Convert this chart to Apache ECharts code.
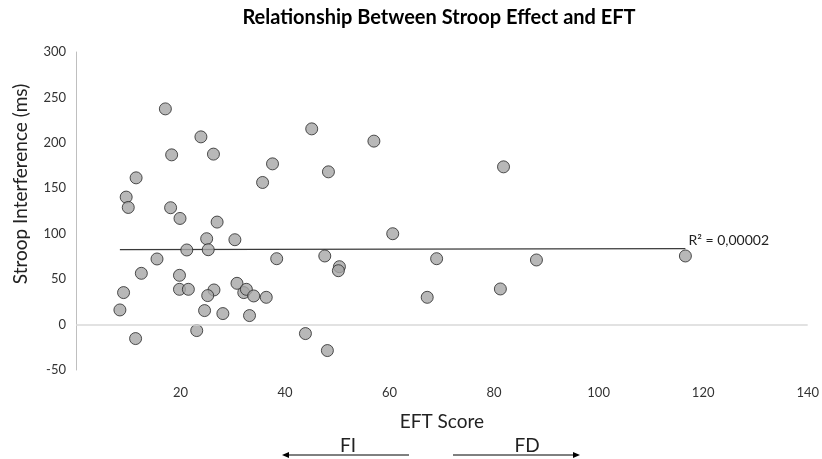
<!DOCTYPE html>
<html>
<head>
<meta charset="utf-8">
<script src="https://cdn.jsdelivr.net/npm/echarts@6/dist/echarts.min.js"></script>
<style>
  html, body { margin: 0; padding: 0; background: #fff; }
  #chart { width: 822px; height: 459px; }
</style>
</head>
<body>
<div id="chart"></div>
<script>
// EFT score and Stroop interference (ms) per participant
const eftScores = [
  17.1, 23.9, 18.3, 26.3, 45.1, 57.0, 37.6, 48.3, 11.5, 35.7,
  9.6, 10.0, 18.1, 19.9, 27.0, 25.0, 30.4, 60.6, 21.2, 25.3,
  15.5, 38.4, 47.6, 50.4, 50.2, 12.5, 19.8, 9.1, 19.8, 21.5,
  26.4, 25.2, 30.8, 32.1, 32.6, 34.0, 36.4, 8.4, 24.6, 28.1,
  33.2, 23.1, 11.4, 43.9, 48.1, 81.8, 69.0, 88.1, 116.6, 67.2,
  81.2
];
const stroopInterference = [
  237.4, 206.6, 186.8, 187.6, 215.4, 201.9, 176.9, 168.1, 161.5, 156.4,
  140.3, 128.9, 128.6, 116.8, 112.8, 94.5, 93.4, 100.0, 82.1, 82.4,
  72.2, 72.5, 75.5, 63.7, 59.3, 56.4, 54.2, 35.2, 38.8, 38.8,
  38.1, 31.9, 45.4, 35.2, 38.8, 31.5, 30.0, 16.1, 15.4, 12.1,
  9.9, -6.6, -15.4, -9.9, -28.6, 173.6, 72.5, 71.1, 75.5, 30.0,
  39.2
];

// Linear trend line end points and its fit statistic
const trendX = [8.4, 116.6];
const trendY = [82.4, 83.5];
const rSquaredText = 'R² = 0,00002';

// Axis ticks
const xTicks = [0, 20, 40, 60, 80, 100, 120, 140];
const yTicks = [-50, 0, 50, 100, 150, 200, 250, 300];

const points = eftScores.map((x, i) => [x, stroopInterference[i]]);
const trend = trendX.map((x, i) => [x, trendY[i]]);

const FONT = 'Lato, "Open Sans", sans-serif';
const chart = echarts.init(document.getElementById('chart'), null, { renderer: 'canvas' });

// Horizontal arrow with a filled head at x2
function arrow(x1, x2, y) {
  const dir = x2 > x1 ? 1 : -1;
  return {
    type: 'group',
    children: [
      { type: 'line', shape: { x1: x1, y1: y, x2: x2 - dir * 4, y2: y },
        style: { stroke: '#000', lineWidth: 1 } },
      { type: 'polygon', shape: { points: [[x2, y], [x2 - dir * 7, y - 3], [x2 - dir * 7, y + 3]] },
        style: { fill: '#000' } }
    ]
  };
}

chart.setOption({
  backgroundColor: '#ffffff',
  animation: false,
  title: {
    text: 'Relationship Between Stroop Effect and EFT',
    left: 434,
    textAlign: 'center',
    top: 3,
    textStyle: { fontFamily: FONT, fontSize: 20, fontWeight: 'bold', color: '#000' }
  },
  grid: { left: 76, right: 11, top: 52, bottom: 89, containLabel: false },
  xAxis: {
    type: 'value',
    min: xTicks[0],
    max: xTicks[xTicks.length - 1],
    interval: 20,
    name: 'EFT Score',
    nameLocation: 'middle',
    nameGap: 42,
    nameTextStyle: { fontFamily: FONT, fontSize: 19, color: '#222' },
    axisLine: { show: false },
    axisTick: { show: false },
    splitLine: { show: false },
    axisLabel: {
      margin: 16,
      fontFamily: FONT, fontSize: 13, color: '#333',
      formatter: v => (v === 0 ? '' : String(v))
    }
  },
  yAxis: {
    type: 'value',
    min: yTicks[0],
    max: yTicks[yTicks.length - 1],
    interval: 50,
    axisLine: { show: true, lineStyle: { color: '#bfbfbf', width: 1 } },
    axisTick: { show: false },
    splitLine: { show: false },
    axisLabel: { margin: 10, fontFamily: FONT, fontSize: 13, color: '#333' }
  },
  series: [
    {
      type: 'line',
      data: trend,
      symbol: 'none',
      silent: true,
      lineStyle: { color: '#3a3a3a', width: 1.3 },
      endLabel: {
        show: true,
        formatter: rSquaredText,
        distance: 3,
        offset: [0, -8],
        fontFamily: FONT, fontSize: 14, color: '#222'
      },
      markLine: {
        silent: true,
        symbol: 'none',
        label: { show: false },
        lineStyle: { color: '#d9d9d9', width: 1.5, type: 'solid' },
        data: [{ yAxis: 0 }]
      },
      z: 2
    },
    {
      type: 'scatter',
      data: points,
      symbol: 'circle',
      symbolSize: 12,
      itemStyle: { color: '#a6a6a6', borderColor: '#262626', borderWidth: 1 },
      z: 3
    }
  ],
  graphic: [
    { type: 'text', x: 21, y: 184, rotation: Math.PI / 2,
      style: { text: 'Stroop Interference (ms)', fontFamily: FONT, fontSize: 19, fill: '#222',
               align: 'center', verticalAlign: 'middle' } },
    { type: 'text', x: 348, y: 446,
      style: { text: 'FI', fontFamily: FONT, fontSize: 19, fill: '#222', align: 'center', verticalAlign: 'middle' } },
    { type: 'text', x: 527, y: 446,
      style: { text: 'FD', fontFamily: FONT, fontSize: 19, fill: '#222', align: 'center', verticalAlign: 'middle' } },
    arrow(409, 282, 455),
    arrow(453, 580, 455)
  ]
});
</script>
</body>
</html>
